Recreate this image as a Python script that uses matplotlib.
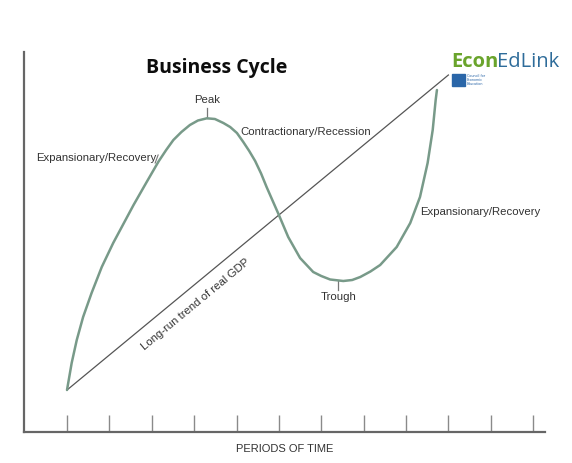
import matplotlib
matplotlib.use("Agg")
import matplotlib.pyplot as plt
from matplotlib.patches import Rectangle

# Business cycle curve (x in periods, y in output units)
cycle_x = [0.00, 0.11, 0.23, 0.38, 0.58, 0.82, 1.09, 1.57, 1.88, 2.16, 2.34, 2.51,
           2.70, 2.90, 3.09, 3.30, 3.49, 3.69, 3.85, 4.01, 4.16, 4.30, 4.44, 4.58,
           4.71, 4.99, 5.22, 5.50, 5.81, 6.00, 6.21, 6.52, 6.73, 6.92, 7.16, 7.39,
           7.78, 8.10, 8.33, 8.51, 8.63, 8.70, 8.73]
cycle_y = [4.2, 6.9, 9.2, 11.5, 13.9, 16.5, 18.9, 22.7, 25.0, 27.05, 28.2, 29.2,
           30.0, 30.7, 31.15, 31.37, 31.3, 30.9, 30.5, 29.9, 29.0, 28.1, 27.1, 25.85,
           24.5, 21.8, 19.5, 17.4, 16.0, 15.6, 15.25, 15.1, 15.2, 15.5, 16.05, 16.7,
           18.5, 20.9, 23.5, 26.9, 30.2, 33.2, 34.2]

# long-run trend line
trend_x = [0.0, 9.0]
trend_y = [4.2, 35.7]

periods = list(range(12))

peak = (3.30, 31.4)
trough = (6.40, 15.1)

curve_col = "#789a89"
axis_col = "#666666"
txt_col = "#333333"
lab_font = ["Liberation Sans Narrow", "Liberation Sans", "DejaVu Sans"]

fig = plt.figure(figsize=(5.72, 4.63), dpi=100)
ax = fig.add_axes([24 / 572, 31 / 463, 521 / 572, 380 / 463])
ax.set_xlim(-1.015, 11.28)
ax.set_ylim(0, 38)

for s in ["top", "right"]:
    ax.spines[s].set_visible(False)
for s in ["left", "bottom"]:
    ax.spines[s].set_color(axis_col)
    ax.spines[s].set_linewidth(1.6)

ax.set_xticks(periods)
ax.set_yticks([])
ax.tick_params(axis="x", direction="in", length=12, width=1.0, color="#8a8a8a",
               labelbottom=False)

ax.plot(trend_x, trend_y, color="#555555", lw=0.9, zorder=2)
ax.plot(cycle_x, cycle_y, color=curve_col, lw=1.8, solid_capstyle="round",
        solid_joinstyle="round", zorder=3)

# peak / trough markers
ax.plot([peak[0], peak[0]], [peak[1], peak[1] + 1.0], color="#777777", lw=0.9)
ax.plot([trough[0], trough[0]], [trough[1], trough[1] - 0.9], color="#777777", lw=0.9)

ax.text(peak[0], peak[1] + 1.3, "Peak", ha="center", va="bottom", fontsize=8.2,
        family=lab_font, color=txt_col)
ax.text(trough[0], trough[1] - 1.1, "Trough", ha="center", va="top", fontsize=8.2,
        family=lab_font, color=txt_col)
ax.text(4.1, 30.0, "Contractionary/Recession", ha="left", va="center", fontsize=8.2,
        family=lab_font, color=txt_col)
ax.text(-0.72, 27.4, "Expansionary/Recovery", ha="left", va="center", fontsize=8.2,
        family=lab_font, color=txt_col)
ax.plot([2.08, 2.15], [26.9, 27.7], color="#777777", lw=0.8)
ax.text(8.34, 22.0, "Expansionary/Recovery", ha="left", va="center", fontsize=8.2,
        family=lab_font, color=txt_col)
ax.text(3.03, 12.8, "Long-run trend of real GDP", ha="center", va="center",
        fontsize=8.2, family=lab_font, color=txt_col, rotation=39.6,
        rotation_mode="anchor")

ax.set_xlabel("PERIODS OF TIME", fontsize=8, family=lab_font, color=txt_col,
              labelpad=9)

# title
fig.text(217 / 572, 1 - 68 / 463, "Business Cycle", ha="center", va="center",
         fontsize=14, fontweight="bold", family=["Open Sans", "DejaVu Sans"],
         color="#0d0d0d")

# logo
fig.text(451 / 572, 1 - 62 / 463, "Econ", ha="left", va="center", fontsize=14.5,
         fontweight="bold", family=["Open Sans", "DejaVu Sans"], color="#6aa42c")
fig.text(497 / 572, 1 - 62 / 463, "EdLink", ha="left", va="center", fontsize=14.5,
         family=["Open Sans", "DejaVu Sans"], color="#2e6c9a")
fig.patches.append(Rectangle((452 / 572, 1 - 86 / 463), 13 / 572, 12 / 463,
                             transform=fig.transFigure, color="#2a66a8"))
fig.text(467 / 572, 1 - 80 / 463, "Council for\nEconomic\nEducation", ha="left",
         va="center", fontsize=2.4, linespacing=1.0, color="#2a66a8")

fig.savefig("out.png", dpi=100)
